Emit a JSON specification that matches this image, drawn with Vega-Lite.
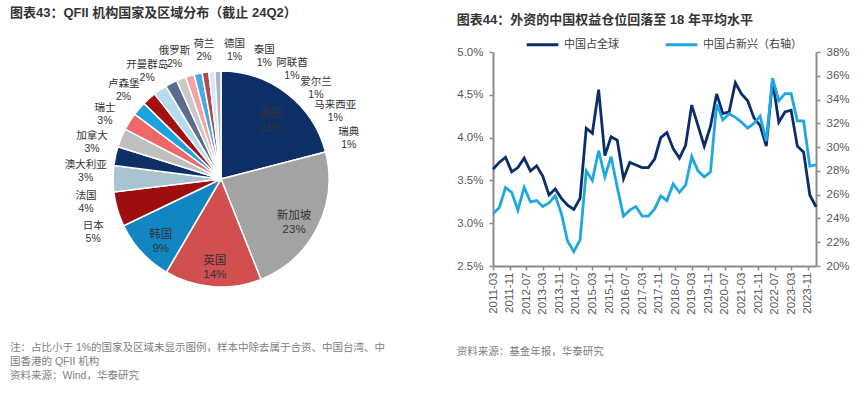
{
  "$schema": "https://vega.github.io/schema/vega-lite/v6.json",
  "background": "white",
  "padding": {"left": 10, "top": 6, "right": 4, "bottom": 2},
  "config": {
    "font": "Liberation Sans, Noto Sans CJK SC",
    "view": {"stroke": null},
    "title": {"font": "Liberation Sans, Noto Sans CJK SC", "color": "#333333"},
    "axis": {"labelFont": "Liberation Sans, Noto Sans CJK SC", "labelColor": "#595959", "labelFontSize": 11.5, "domainColor": "#8c8c8c", "domainWidth": 2, "tickColor": "#8c8c8c", "tickWidth": 1.5, "tickSize": 4, "grid": false, "title": null},
    "legend": {"labelFont": "Liberation Sans, Noto Sans CJK SC"}
  },
  "spacing": 24,
  "resolve": {"scale": {"color": "independent"}, "legend": {"color": "independent"}},
  "datasets": {
    "pie": [
      {"idx": 0, "name": "美国", "value": 20.9, "pct": "21%"},
      {"idx": 1, "name": "新加坡", "value": 22.9, "pct": "23%"},
      {"idx": 2, "name": "英国", "value": 14.4, "pct": "14%"},
      {"idx": 3, "name": "韩国", "value": 9.4, "pct": "9%"},
      {"idx": 4, "name": "日本", "value": 5.2, "pct": "5%"},
      {"idx": 5, "name": "法国", "value": 3.9, "pct": "4%"},
      {"idx": 6, "name": "澳大利亚", "value": 2.8, "pct": "3%"},
      {"idx": 7, "name": "加拿大", "value": 2.8, "pct": "3%"},
      {"idx": 8, "name": "瑞士", "value": 2.6, "pct": "3%"},
      {"idx": 9, "name": "卢森堡", "value": 2.1, "pct": "2%"},
      {"idx": 10, "name": "开曼群岛", "value": 2.1, "pct": "2%"},
      {"idx": 11, "name": "俄罗斯", "value": 2.0, "pct": "2%"},
      {"idx": 12, "name": "荷兰", "value": 1.8, "pct": "2%"},
      {"idx": 13, "name": "德国", "value": 1.4, "pct": "1%"},
      {"idx": 14, "name": "泰国", "value": 1.3, "pct": "1%"},
      {"idx": 15, "name": "阿联酋", "value": 1.2, "pct": "1%"},
      {"idx": 16, "name": "爱尔兰", "value": 1.0, "pct": "1%"},
      {"idx": 17, "name": "马来西亚", "value": 0.9, "pct": "1%"},
      {"idx": 18, "name": "瑞典", "value": 0.9, "pct": "1%"}
    ],
    "line": [
      {"date": "2011-03-01", "中国占全球": 3.63, "中国占新兴（右轴）": 24.4},
      {"date": "2011-06-01", "中国占全球": 3.71, "中国占新兴（右轴）": 24.9},
      {"date": "2011-09-01", "中国占全球": 3.77, "中国占新兴（右轴）": 26.6},
      {"date": "2011-12-01", "中国占全球": 3.60, "中国占新兴（右轴）": 26.2},
      {"date": "2012-03-01", "中国占全球": 3.65, "中国占新兴（右轴）": 24.7},
      {"date": "2012-06-01", "中国占全球": 3.76, "中国占新兴（右轴）": 26.6},
      {"date": "2012-09-01", "中国占全球": 3.61, "中国占新兴（右轴）": 25.4},
      {"date": "2012-12-01", "中国占全球": 3.67, "中国占新兴（右轴）": 25.5},
      {"date": "2013-03-01", "中国占全球": 3.55, "中国占新兴（右轴）": 25.0},
      {"date": "2013-06-01", "中国占全球": 3.33, "中国占新兴（右轴）": 25.3},
      {"date": "2013-09-01", "中国占全球": 3.40, "中国占新兴（右轴）": 25.9},
      {"date": "2013-12-01", "中国占全球": 3.29, "中国占新兴（右轴）": 24.4},
      {"date": "2014-03-01", "中国占全球": 3.21, "中国占新兴（右轴）": 22.1},
      {"date": "2014-06-01", "中国占全球": 3.16, "中国占新兴（右轴）": 21.2},
      {"date": "2014-09-01", "中国占全球": 3.29, "中国占新兴（右轴）": 22.2},
      {"date": "2014-12-01", "中国占全球": 4.11, "中国占新兴（右轴）": 28.0},
      {"date": "2015-03-01", "中国占全球": 4.05, "中国占新兴（右轴）": 27.2},
      {"date": "2015-06-01", "中国占全球": 4.56, "中国占新兴（右轴）": 29.7},
      {"date": "2015-09-01", "中国占全球": 3.79, "中国占新兴（右轴）": 27.5},
      {"date": "2015-12-01", "中国占全球": 4.01, "中国占新兴（右轴）": 29.2},
      {"date": "2016-03-01", "中国占全球": 3.97, "中国占新兴（右轴）": 26.6},
      {"date": "2016-06-01", "中国占全球": 3.52, "中国占新兴（右轴）": 24.2},
      {"date": "2016-09-01", "中国占全球": 3.71, "中国占新兴（右轴）": 24.7},
      {"date": "2016-12-01", "中国占全球": 3.68, "中国占新兴（右轴）": 25.0},
      {"date": "2017-03-01", "中国占全球": 3.65, "中国占新兴（右轴）": 24.2},
      {"date": "2017-06-01", "中国占全球": 3.65, "中国占新兴（右轴）": 24.2},
      {"date": "2017-09-01", "中国占全球": 3.75, "中国占新兴（右轴）": 24.8},
      {"date": "2017-12-01", "中国占全球": 4.00, "中国占新兴（右轴）": 25.9},
      {"date": "2018-03-01", "中国占全球": 4.06, "中国占新兴（右轴）": 25.5},
      {"date": "2018-06-01", "中国占全球": 3.87, "中国占新兴（右轴）": 26.9},
      {"date": "2018-09-01", "中国占全球": 3.76, "中国占新兴（右轴）": 26.2},
      {"date": "2018-12-01", "中国占全球": 3.91, "中国占新兴（右轴）": 26.8},
      {"date": "2019-03-01", "中国占全球": 4.38, "中国占新兴（右轴）": 29.2},
      {"date": "2019-06-01", "中国占全球": 4.14, "中国占新兴（右轴）": 28.0},
      {"date": "2019-09-01", "中国占全球": 3.90, "中国占新兴（右轴）": 27.5},
      {"date": "2019-12-01", "中国占全球": 4.13, "中国占新兴（右轴）": 27.9},
      {"date": "2020-03-01", "中国占全球": 4.51, "中国占新兴（右轴）": 33.6},
      {"date": "2020-06-01", "中国占全球": 4.28, "中国占新兴（右轴）": 32.3},
      {"date": "2020-09-01", "中国占全球": 4.30, "中国占新兴（右轴）": 32.8},
      {"date": "2020-12-01", "中国占全球": 4.64, "中国占新兴（右轴）": 32.5},
      {"date": "2021-03-01", "中国占全球": 4.51, "中国占新兴（右轴）": 32.1},
      {"date": "2021-06-01", "中国占全球": 4.43, "中国占新兴（右轴）": 31.6},
      {"date": "2021-09-01", "中国占全球": 4.23, "中国占新兴（右轴）": 32.0},
      {"date": "2021-12-01", "中国占全球": 4.14, "中国占新兴（右轴）": 32.6},
      {"date": "2022-03-01", "中国占全球": 3.90, "中国占新兴（右轴）": 30.5},
      {"date": "2022-06-01", "中国占全球": 4.67, "中国占新兴（右轴）": 35.8},
      {"date": "2022-09-01", "中国占全球": 4.18, "中国占新兴（右轴）": 33.9},
      {"date": "2022-12-01", "中国占全球": 4.30, "中国占新兴（右轴）": 34.5},
      {"date": "2023-03-01", "中国占全球": 4.32, "中国占新兴（右轴）": 34.5},
      {"date": "2023-06-01", "中国占全球": 3.90, "中国占新兴（右轴）": 32.2},
      {"date": "2023-09-01", "中国占全球": 3.83, "中国占新兴（右轴）": 32.2},
      {"date": "2023-12-01", "中国占全球": 3.33, "中国占新兴（右轴）": 28.4},
      {"date": "2024-03-01", "中国占全球": 3.19, "中国占新兴（右轴）": 28.5}
    ]
  },
  "hconcat": [
    {
      "title": {"text": ["注：占比小于 1%的国家及区域未显示图例，样本中除去属于合资、中国台湾、中", "国香港的 QFII 机构", "资料来源：Wind，华泰研究"], "orient": "bottom", "anchor": "start", "fontSize": 10.5, "fontWeight": "normal", "color": "#808080", "offset": 37, "lineHeight": 14},
      "vconcat": [
        {
          "title": {"text": "图表43：QFII 机构国家及区域分布（截止 24Q2）", "anchor": "start", "fontSize": 13, "fontWeight": "bold", "offset": 19},
          "width": 422,
          "height": 254,
          "data": {"name": "pie"},
          "transform": [
            {"calculate": "datum.idx < 4 ? datum.name + '\\n' + datum.pct : ''", "as": "inner"},
            {"calculate": "datum.name + '\\n' + datum.pct", "as": "outer"}
          ],
          "layer": [
            {
              "mark": {"type": "arc", "outerRadius": 108, "stroke": "white", "strokeWidth": 1.5},
              "encoding": {
                "theta": {"field": "value", "type": "quantitative", "stack": true},
                "order": {"field": "idx", "type": "quantitative"},
                "color": {"field": "name", "type": "nominal", "legend": null,
                  "scale": {
                    "domain": ["美国", "新加坡", "英国", "韩国", "日本", "法国", "澳大利亚", "加拿大", "瑞士", "卢森堡", "开曼群岛", "俄罗斯", "荷兰", "德国", "泰国", "阿联酋", "爱尔兰", "马来西亚", "瑞典"],
                    "range": ["#0e2f66", "#a3a3a3", "#d14f4f", "#1186c3", "#9e0e0e", "#a9c4d0", "#0e2f66", "#bfbfbf", "#ef6868", "#1ba3df", "#a50f0f", "#b4dbee", "#5b6d8f", "#c9c9c9", "#f4a3a3", "#4aa8e3", "#b04a4a", "#d1e7f3", "#aab4c6"]
                  }
                }
              }
            },
            {
              "mark": {"type": "text", "radius": 82, "lineBreak": "\n", "fontSize": 11.5, "color": "#333333", "lineHeight": 14},
              "encoding": {
                "theta": {"field": "value", "type": "quantitative", "stack": true},
                "order": {"field": "idx", "type": "quantitative"},
                "detail": {"field": "name", "type": "nominal"},
                "text": {"field": "inner", "type": "nominal"}
              }
            },
            {
              "transform": [{"filter": "datum.idx >= 4"}],
              "mark": {"type": "text", "radius": 136, "lineBreak": "\n", "fontSize": 10.5, "color": "#333333", "lineHeight": 13},
              "encoding": {
                "theta": {"field": "idx", "type": "quantitative", "stack": null, "scale": {"domain": [4, 18], "range": [4.363, 7.505], "zero": false}},
                "text": {"field": "outer", "type": "nominal"}
              }
            }
          ],
          "resolve": {"scale": {"theta": "independent"}}
        }
      ]
    },
    {
      "title": {"text": "资料来源：基金年报，华泰研究", "orient": "bottom", "anchor": "start", "fontSize": 10.5, "fontWeight": "normal", "color": "#808080", "offset": 33},
      "vconcat": [
        {
          "title": {"text": "图表44：外资的中国权益仓位回落至 18 年平均水平", "anchor": "start", "fontSize": 13, "fontWeight": "bold", "offset": 19},
          "width": 323,
          "height": 214,
          "data": {"name": "line"},
          "transform": [{"fold": ["中国占全球", "中国占新兴（右轴）"], "as": ["series", "v"]}],
          "encoding": {
            "x": {"field": "date", "type": "temporal", "scale": {"type": "utc", "nice": false},
              "axis": {"format": "%Y-%m", "labelAngle": 270, "labelFontSize": 11.5,
                "values": [
                  {"year": 2011, "month": 3, "date": 1, "utc": true},
                  {"year": 2011, "month": 11, "date": 1, "utc": true},
                  {"year": 2012, "month": 7, "date": 1, "utc": true},
                  {"year": 2013, "month": 3, "date": 1, "utc": true},
                  {"year": 2013, "month": 11, "date": 1, "utc": true},
                  {"year": 2014, "month": 7, "date": 1, "utc": true},
                  {"year": 2015, "month": 3, "date": 1, "utc": true},
                  {"year": 2015, "month": 11, "date": 1, "utc": true},
                  {"year": 2016, "month": 7, "date": 1, "utc": true},
                  {"year": 2017, "month": 3, "date": 1, "utc": true},
                  {"year": 2017, "month": 11, "date": 1, "utc": true},
                  {"year": 2018, "month": 7, "date": 1, "utc": true},
                  {"year": 2019, "month": 3, "date": 1, "utc": true},
                  {"year": 2019, "month": 11, "date": 1, "utc": true},
                  {"year": 2020, "month": 7, "date": 1, "utc": true},
                  {"year": 2021, "month": 3, "date": 1, "utc": true},
                  {"year": 2021, "month": 11, "date": 1, "utc": true},
                  {"year": 2022, "month": 7, "date": 1, "utc": true},
                  {"year": 2023, "month": 3, "date": 1, "utc": true},
                  {"year": 2023, "month": 11, "date": 1, "utc": true}
                ]
              }
            },
            "color": {"field": "series", "type": "nominal",
              "scale": {"domain": ["中国占全球", "中国占新兴（右轴）"], "range": ["#0b2d6b", "#1fa7e1"]},
              "legend": {"orient": "none", "legendX": 32, "legendY": -25, "direction": "horizontal", "title": null, "symbolType": "stroke", "symbolStrokeWidth": 3, "symbolSize": 1000, "labelFontSize": 11, "labelColor": "#404040", "columnPadding": 40, "labelOffset": 4}
            }
          },
          "layer": [
            {
              "transform": [{"filter": "datum.series == '中国占全球'"}],
              "mark": {"type": "line", "strokeWidth": 2.8},
              "encoding": {
                "y": {"field": "v", "type": "quantitative", "scale": {"domain": [2.5, 5.0], "nice": false, "zero": false},
                  "axis": {"orient": "left", "values": [2.5, 3.0, 3.5, 4.0, 4.5, 5.0], "labelExpr": "format(datum.value, '.1f') + '%'", "labelPadding": 6}}
              }
            },
            {
              "transform": [{"filter": "datum.series == '中国占新兴（右轴）'"}],
              "mark": {"type": "line", "strokeWidth": 2.8},
              "encoding": {
                "y": {"field": "v", "type": "quantitative", "scale": {"domain": [20, 38], "nice": false, "zero": false},
                  "axis": {"orient": "right", "values": [20, 22, 24, 26, 28, 30, 32, 34, 36, 38], "labelExpr": "format(datum.value, '.0f') + '%'", "labelPadding": 6}}
              }
            }
          ],
          "resolve": {"scale": {"y": "independent"}}
        }
      ]
    }
  ]
}
